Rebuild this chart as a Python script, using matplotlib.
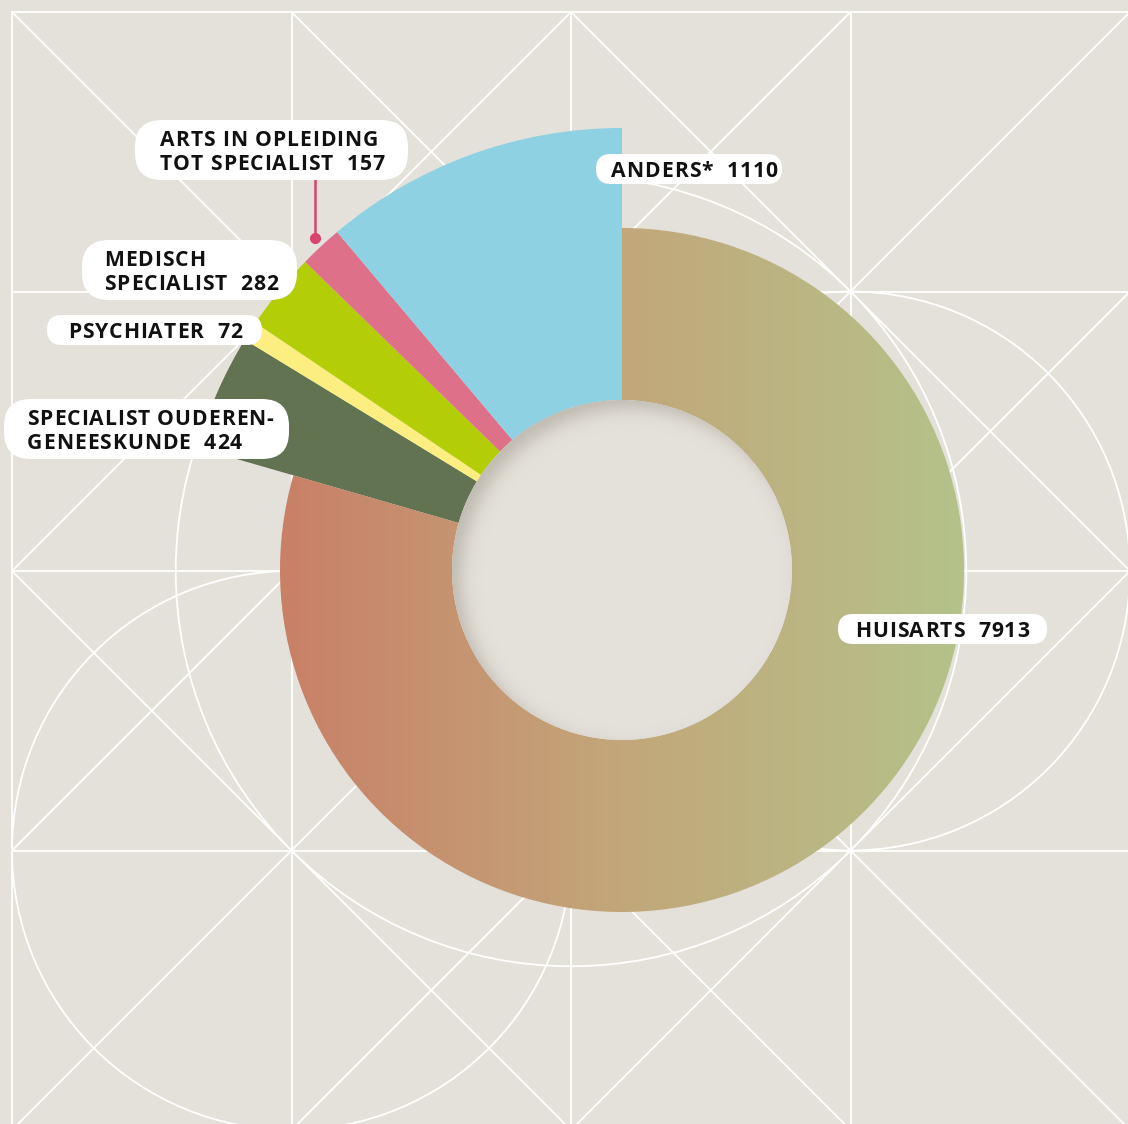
import numpy as np
import matplotlib.pyplot as plt
from matplotlib.patches import Circle, FancyBboxPatch
from matplotlib.colors import LinearSegmentedColormap
from matplotlib.font_manager import FontProperties, findfont
from matplotlib.ft2font import FT2Font

# ---- DATA ----
categories = ['HUISARTS', 'SPECIALIST OUDEREN-\nGENEESKUNDE', 'PSYCHIATER',
              'MEDISCH\nSPECIALIST', 'ARTS IN OPLEIDING\nTOT SPECIALIST', 'ANDERS*']
values = [7913, 424, 72, 282, 157, 1110]
colors = ['#c2a77a', '#617350', '#fcee80', '#b3cd06', '#df708a', '#8dd1e2']
huisarts_gradient = ['#c98067', '#c2a77a', '#b4c28a']

# ---- LAYOUT (pixels, y pointing down) ----
W, H = 1128, 1124
cx, cy = 622, 570
r_out, r_main, r_in = 442, 342, 170
bg = '#e4e1da'
# label box: x0, y0, x1, y1, text x
label_boxes = [
    (838, 614, 1047, 644, 855),
    (4, 399, 289, 459, 27),
    (47, 315, 262, 345, 68),
    (82, 240, 297, 300, 104),
    (135, 120, 408, 180, 160),
    (596, 154, 782, 184, 611),
]
FONT = 'Open Sans'
FS = 15.2
TRACK = 0.9  # extra letterafstand in px

fig = plt.figure(figsize=(W / 100, H / 100), dpi=100, facecolor=bg)
ax = fig.add_axes([0, 0, 1, 1])
ax.set_facecolor(bg)

# ---- achtergrondpatroon ----
g0, step = 12, 279.5
lw_grid = 1.3
for i in range(5):
    p = g0 + i * step
    ax.plot([p, p], [g0, H + 10], color='white', lw=lw_grid, zorder=0.5)
    ax.plot([g0, W + 10], [p, p], color='white', lw=lw_grid, zorder=0.5)
pattern = [['\\', 'X', 'X', '/'],
           ['/', 'X', 'X', 'X'],
           ['X', 'X', 'X', '/'],
           ['/', 'X', 'X', '\\']]
for r, row in enumerate(pattern):
    for c, kind in enumerate(row):
        x0, y0 = g0 + c * step, g0 + r * step
        x1, y1 = x0 + step, y0 + step
        if kind in ('\\', 'X'):
            ax.plot([x0, x1], [y0, y1], color='white', lw=lw_grid, zorder=0.5)
        if kind in ('/', 'X'):
            ax.plot([x0, x1], [y1, y0], color='white', lw=lw_grid, zorder=0.5)
for (ccx, ccy, rr) in [(g0 + 2 * step, g0 + 2 * step, step * np.sqrt(2)),
                       (g0 + step, g0 + 3 * step, step),
                       (g0 + 3 * step, g0 + 2 * step, step)]:
    ax.add_patch(Circle((ccx, ccy), rr, fill=False, ec='white', lw=lw_grid, zorder=0.5))

# ---- donut ----
# y-as is omgedraaid: startangle -90 = boven, counterclock=True = met de klok mee op scherm
wedges, _ = ax.pie(values, colors=colors, radius=r_out, center=(cx, cy),
                   startangle=-90, counterclock=True, frame=True,
                   wedgeprops=dict(width=r_out - r_in, linewidth=0))
wedges[0].set_radius(r_main)
wedges[0].set_width(r_main - r_in)
wedges[0].set_facecolor('none')

cmap = LinearSegmentedColormap.from_list('huisarts', huisarts_gradient)
im = ax.imshow(np.linspace(0, 1, 512)[None, :], cmap=cmap, aspect='auto',
               extent=(cx - r_main, cx + r_main, cy + r_main, cy - r_main),
               interpolation='bilinear', zorder=2)
im.set_clip_path(wedges[0])

# gat met binnenschaduw
hole = Circle((cx, cy), r_in, fc=bg, ec='none', zorder=2.5)
ax.add_patch(hole)
xs = np.arange(cx - r_in, cx + r_in + 1)
ys = np.arange(cy - r_in, cy + r_in + 1)
X, Y = np.meshgrid(xs, ys)
t = r_in - np.hypot(X - (cx + 9), Y - (cy + 9))
shade = np.zeros(X.shape + (4,))
shade[..., 0], shade[..., 1], shade[..., 2] = 120 / 255, 110 / 255, 95 / 255
shade[..., 3] = 0.34 / (1 + np.exp(t / 5))
sh = ax.imshow(shade, extent=(xs[0] - 0.5, xs[-1] + 0.5, ys[-1] + 0.5, ys[0] - 0.5),
               interpolation='bilinear', zorder=3)
sh.set_clip_path(hole)

# ---- labels (met extra letterafstand) ----
ft = FT2Font(findfont(FontProperties(family=FONT, weight='bold')))
ft.set_size(FS, 100)


def advance(ch):
    g = ft.load_char(ord(ch))
    return g.linearHoriAdvance / 65536


def spaced_text(x, y, s):
    for ch in s:
        if ch != ' ':
            ax.text(x, y, ch, family=FONT, weight='bold', fontsize=FS,
                    color='#111111', ha='left', va='baseline', zorder=6)
        x += advance(ch) + TRACK


for cat, val, (x0, y0, x1, y1, tx) in zip(categories, values, label_boxes):
    lines = cat.split('\n')
    lines[-1] = f'{lines[-1]}  {val}'
    h = y1 - y0
    rad = min(h / 2, 27)
    ax.add_patch(FancyBboxPatch((x0, y0), x1 - x0, h,
                                boxstyle=f'round,pad=0,rounding_size={rad}',
                                fc='white', ec='none', zorder=5))
    mid = (y0 + y1) / 2
    n = len(lines)
    for j, line in enumerate(lines):
        yc = mid + (j - (n - 1) / 2) * 24
        spaced_text(tx, yc + 8, line)

# verbindingslijn naar 'arts in opleiding'
ax.plot([315, 315], [180, 238], color='#d9446c', lw=1.8, zorder=4)
ax.plot([315], [238], 'o', color='#d9446c', ms=7, zorder=4)

ax.set_xlim(0, W)
ax.set_ylim(H, 0)
ax.set_aspect('equal')
ax.axis('off')

plt.savefig('out.png', dpi=100, facecolor=bg)
